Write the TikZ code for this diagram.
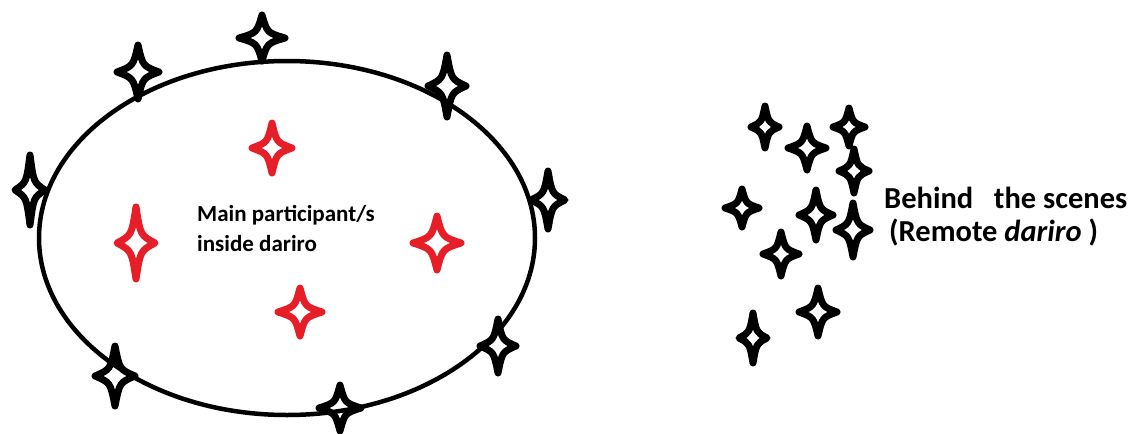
\documentclass[tikz,border=0pt]{standalone}
\usepackage{fontspec}
\setmainfont{Carlito}
\tikzset{
  sparkline/.style={line width=7pt, line join=round},
  pics/spark/.style n args={3}{code={
    \draw[sparkline, draw=#3] (0,#2-3) .. controls (0.2*#1,0.2*#2) .. (#1-3,0)
      .. controls (0.2*#1,-0.2*#2) .. (0,-#2+3)
      .. controls (-0.2*#1,-0.2*#2) .. (-#1+3,0)
      .. controls (-0.2*#1,0.2*#2) .. cycle;
  }},
  lbl/.style={inner sep=0pt, font=\bfseries},
}
\definecolor{sparkred}{RGB}{230,30,40}
\begin{document}
\begin{tikzpicture}[x=1pt,y=-1pt]
\useasboundingbox (0,0) rectangle (1136,434);
% ellipse
\draw[line width=4.5pt] (287,238) ellipse [x radius=248, y radius=177];
% black stars on the ellipse
\pic at (138,72) {spark={24}{30}{black}};
\pic at (262,38) {spark={26}{26}{black}};
\pic at (447,86) {spark={22}{34}{black}};
\pic at (30,190) {spark={18}{38}{black}};
\pic at (548,200) {spark={20}{32}{black}};
\pic at (498,346) {spark={21}{30}{black}};
\pic at (115,376) {spark={23}{33}{black}};
\pic at (340,408) {spark={24}{26}{black}};
% red stars inside
\pic at (272,148) {spark={23}{28}{sparkred}};
\pic at (136,243) {spark={22}{39}{sparkred}};
\pic at (437,243) {spark={27}{30}{sparkred}};
\pic at (300,312) {spark={25}{27}{sparkred}};
% stars behind the scenes
\pic at (765,127) {spark={17}{24}{black}};
\pic at (807,148) {spark={22}{25}{black}};
\pic at (849,127) {spark={19}{22}{black}};
\pic at (854,171) {spark={18}{25}{black}};
\pic at (742,208) {spark={20}{22}{black}};
\pic at (816,215) {spark={20}{28}{black}};
\pic at (853,230) {spark={20}{30}{black}};
\pic at (781,254) {spark={21}{25}{black}};
\pic at (818,312) {spark={22}{27}{black}};
\pic at (753,338) {spark={17}{28}{black}};
% texts
\node[lbl, anchor=base west, font=\bfseries\fontsize{23}{26}\selectfont] (m1) at (197,221) {Main participant/s};
\node[lbl, anchor=base west, font=\bfseries\fontsize{23}{26}\selectfont] (m2) at (197,251) {inside dariro};
\node[lbl, anchor=base west, font=\bfseries\fontsize{30.5}{34}\selectfont] (b1) at (884,208) {Behind\ \ \ the scenes};
\node[lbl, anchor=base west, font=\bfseries\fontsize{30.5}{34}\selectfont] (b2) at (889,241) {(Remote \textit{dariro} )};
\end{tikzpicture}
\end{document}
